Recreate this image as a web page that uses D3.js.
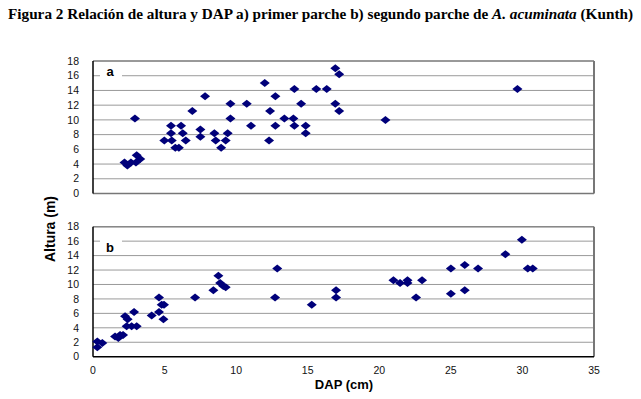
<!DOCTYPE html>
<html>
<head>
<meta charset="utf-8">
<script src="https://cdn.jsdelivr.net/npm/d3@7"></script>
<style>
  body { margin: 0; background: #fff; }
  svg { display: block; }
  .tick-lbl { font-family: Arial, "Liberation Sans", sans-serif; font-size: 10.5px; fill: #111; }
  .ax-title { font-family: Arial, "Liberation Sans", sans-serif; font-size: 13px; font-weight: bold; fill: #000; }
</style>
</head>
<body>
<svg id="chart" width="641" height="399"></svg>
<script>
// ---- data ----
// panel a: primer parche
var dapA = [2.2, 2.4, 2.65, 2.93, 3.05, 3.3, 3.0,
  4.98, 5.5, 5.45, 5.45, 5.75, 6.0, 6.15, 6.27, 6.48, 6.94, 7.5, 7.5, 7.83,
  8.48, 8.57, 8.95, 9.27, 9.41, 9.6, 9.6, 10.74, 11.04, 12.0, 12.3, 12.37,
  12.74, 12.74, 13.37, 14.0, 14.07, 14.07, 14.54, 14.86, 14.86, 15.6, 16.33,
  16.93, 17.2, 16.93, 17.2, 20.43, 29.65];
var altA = [4.2, 3.8, 4.2, 10.2, 5.2, 4.7, 4.2,
  7.2, 7.2, 9.2, 8.2, 6.2, 6.2, 9.2, 8.2, 7.2, 11.2, 8.7, 7.7, 13.2,
  8.2, 7.2, 6.2, 7.2, 8.2, 12.2, 10.2, 12.2, 9.2, 15.0, 7.2, 11.2,
  13.2, 9.2, 10.2, 10.2, 14.2, 9.2, 12.2, 9.2, 8.2, 14.2, 14.2,
  17.0, 16.2, 12.2, 11.2, 10.0, 14.2];

// panel b: segundo parche
var dapB = [0.3, 0.3, 0.65, 1.54, 1.77, 1.89, 2.1,
  2.24, 2.42, 2.35, 2.7, 3.05, 2.87, 4.1, 4.61, 4.61, 4.8, 4.96, 4.92,
  7.13, 8.41, 8.76, 8.88, 9.1, 9.27, 12.72, 12.87, 15.28, 16.98, 16.98,
  20.99, 21.45, 21.97, 21.97, 22.57, 22.99, 25.0, 25.0, 25.97, 25.97, 26.9,
  28.81, 29.96, 30.37, 30.72];
var altB = [1.3, 2.1, 1.9, 2.8, 2.6, 3.0, 3.0,
  5.6, 5.2, 4.2, 4.2, 4.2, 6.2, 5.7, 8.2, 6.2, 7.2, 7.2, 5.2,
  8.2, 9.2, 11.2, 10.2, 9.8, 9.6, 8.2, 12.2, 7.2, 9.2, 8.2,
  10.6, 10.2, 10.6, 10.2, 8.2, 10.6, 12.2, 8.7, 12.7, 9.2, 12.2,
  14.2, 16.2, 12.2, 12.2];

var yTicks = [0, 2, 4, 6, 8, 10, 12, 14, 16, 18];
var xTicks = [0, 5, 10, 15, 20, 25, 30, 35];

var svg = d3.select("#chart");

// title (serif, bold, species name italic)
var title = svg.append("text")
  .attr("x", 8).attr("y", 19)
  .attr("textLength", 625).attr("lengthAdjust", "spacingAndGlyphs")
  .style("font-family", "'Times New Roman', 'Liberation Serif', serif")
  .style("font-size", "14px").style("font-weight", "bold");
title.append("tspan").text("Figura 2 Relación de altura y DAP a) primer parche b) segundo parche de ");
title.append("tspan").style("font-style", "italic").text("A. acuminata");
title.append("tspan").text(" (Kunth)");

var x = d3.scaleLinear().domain([0, 35]).range([93, 594]);

function panel(yScale, xs, ys, letter, showX, letterY) {
  var g = svg.append("g");
  var top = yScale(18), bot = yScale(0);

  // grid lines
  g.selectAll(".grid").data(yTicks.slice(1))
    .enter().append("line")
    .attr("x1", x(0)).attr("x2", x(35))
    .attr("y1", function (d) { return yScale(d); })
    .attr("y2", function (d) { return yScale(d); })
    .attr("stroke", "#9a9a9a").attr("stroke-width", 1);

  // frame: grey top / right, black left
  g.append("line").attr("x1", x(0)).attr("x2", x(35)).attr("y1", top).attr("y2", top)
    .attr("stroke", "#888").attr("stroke-width", 1.5);
  g.append("line").attr("x1", x(35)).attr("x2", x(35)).attr("y1", top).attr("y2", bot)
    .attr("stroke", "#777").attr("stroke-width", 2);
  g.append("line").attr("x1", x(0)).attr("x2", x(35)).attr("y1", bot).attr("y2", bot)
    .attr("stroke", showX ? "#000" : "#777").attr("stroke-width", 1.5);
  g.append("line").attr("x1", x(0)).attr("x2", x(0)).attr("y1", top).attr("y2", bot)
    .attr("stroke", "#000").attr("stroke-width", 1.5);

  // y axis labels
  g.selectAll(".ylbl").data(yTicks)
    .enter().append("text")
    .attr("class", "tick-lbl")
    .attr("x", 79)
    .attr("y", function (d) { return yScale(d) + 3.7; })
    .attr("text-anchor", "end")
    .text(function (d) { return d; });

  if (showX) {
    g.selectAll(".xlbl").data(xTicks)
      .enter().append("text")
      .attr("class", "tick-lbl")
      .attr("x", function (d) { return x(d); })
      .attr("y", bot + 17)
      .attr("text-anchor", "middle")
      .text(function (d) { return d; });
  }

  // panel letter with white box over the grid
  g.append("rect").attr("x", 100).attr("y", yScale(16) - 7).attr("width", 22).attr("height", 14)
    .attr("fill", "#fff");
  g.append("text").attr("class", "ax-title")
    .attr("x", 110).attr("y", letterY)
    .attr("text-anchor", "middle")
    .text(letter);

  // diamond markers
  var pts = xs.map(function (d, i) { return [d, ys[i]]; });
  g.selectAll(".pt").data(pts)
    .enter().append("path")
    .attr("d", "M0,-4L5,0L0,4L-5,0Z")
    .attr("transform", function (d) { return "translate(" + x(d[0]) + "," + yScale(d[1]) + ")"; })
    .attr("fill", "#00007a");
}

var yA = d3.scaleLinear().domain([0, 18]).range([193.5, 61]);
var yB = d3.scaleLinear().domain([0, 18]).range([356.7, 226.7]);

panel(yA, dapA, altA, "a", false, 76);
panel(yB, dapB, altB, "b", true, 252);

// axis titles
svg.append("text").attr("class", "ax-title")
  .attr("x", 344).attr("y", 389).attr("text-anchor", "middle")
  .text("DAP (cm)");
svg.append("text").attr("class", "ax-title")
  .attr("transform", "translate(55,229) rotate(-90)")
  .attr("text-anchor", "middle")
  .style("font-size", "14px")
  .attr("textLength", 66).attr("lengthAdjust", "spacingAndGlyphs")
  .text("Altura (m)");
</script>
</body>
</html>
